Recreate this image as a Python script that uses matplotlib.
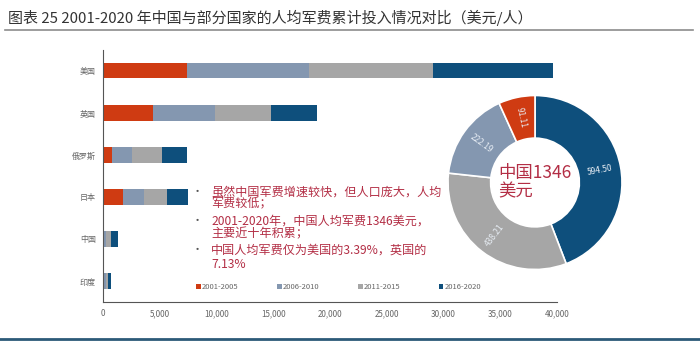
import matplotlib
matplotlib.use("Agg")
import matplotlib.pyplot as plt
from matplotlib.ticker import FuncFormatter
import numpy as np

plt.rcParams['font.family'] = ['Noto Sans CJK SC', 'DejaVu Sans']

# DATA ----------------------------------------------------------------------
countries = ['美国', '英国', '俄罗斯', '日本', '中国', '印度']
periods = ['2001-2005', '2006-2010', '2011-2015', '2016-2020']
p2001_2005 = [7400, 4430, 790, 1760, 91.11, 90]
p2006_2010 = [10770, 5440, 1740, 1850, 222.19, 160]
p2011_2015 = [10880, 4910, 2640, 2000, 438.21, 220]
p2016_2020 = [10550, 4100, 2200, 1850, 594.50, 260]

china_vals = [594.50, 438.21, 222.19, 91.11]   # 2016-2020, 2011-2015, 2006-2010, 2001-2005
china_total = 1346

colors = ['#CF3B12', '#8497B0', '#A6A6A6', '#0E4F7C']
pie_colors = [colors[3], colors[2], colors[1], colors[0]]
text_red = '#B32E45'

notes = [
    ['虽然中国军费增速较快，但人口庞大，人均', '军费较低；'],
    ['2001-2020年，中国人均军费1346美元，', '主要近十年积累；'],
    ['中国人均军费仅为美国的3.39%，英国的', '7.13%'],
]

# FIGURE --------------------------------------------------------------------
fig = plt.figure(figsize=(7.0, 3.42), dpi=100)

fig.text(0.011, 0.948, '图表 25 2001-2020 年中国与部分国家的人均军费累计投入情况对比（美元/人）',
         fontsize=10.8, color='#333333', va='center', ha='left')
fig.add_artist(plt.Line2D([0.007, 0.99], [0.912, 0.912], color='#8C8C8C', lw=1.2))

ax = fig.add_axes([0.147, 0.117, 0.649, 0.737])
y = np.arange(len(countries))
left = np.zeros(len(countries))
series = [p2001_2005, p2006_2010, p2011_2015, p2016_2020]
for vals, c, lab in zip(series, colors, periods):
    ax.barh(y, vals, left=left, height=0.36, color=c, label=lab)
    left = left + np.array(vals)

ax.set_xlim(0, 40000)
ax.set_ylim(5.5, -0.5)
ax.set_yticks(y)
ax.set_yticklabels(countries)
ax.xaxis.set_major_formatter(FuncFormatter(lambda v, p: f'{int(v):,}'))
ax.set_xticks(np.arange(0, 40001, 5000))
ax.tick_params(axis='both', length=0, labelsize=5.8, colors='#666666', pad=5)
for s in ['top', 'right']:
    ax.spines[s].set_visible(False)
ax.spines['left'].set_color('#555555')
ax.spines['bottom'].set_color('#555555')

leg = ax.legend(ncol=4, loc='center left', bbox_to_anchor=(0.19, 0.058), frameon=False,
                fontsize=5.5, handlelength=0.6, handleheight=0.6, handletextpad=0.2,
                columnspacing=5.0, labelcolor='#666666')

# notes text
ys = [[192, 204], [221, 234], [250, 264]]
for lines, (y1, y2) in zip(notes, ys):
    fig.text(192 / 700, 1 - y1 / 342, '•', fontsize=8, color='#555555', va='center')
    fig.text(211 / 700, 1 - y1 / 342, lines[0], fontsize=8.7, color=text_red, va='center',
             weight='medium')
    fig.text(211 / 700, 1 - y2 / 342, lines[1], fontsize=8.7, color=text_red, va='center',
             weight='medium')

# donut
cx, cy, r = 535, 182.5, 87
pax = fig.add_axes([(cx - r) / 700, (342 - cy - r) / 342, 2 * r / 700, 2 * r / 342])
wedges, _ = pax.pie(china_vals, colors=pie_colors, startangle=90, counterclock=False,
                    radius=1, wedgeprops=dict(width=0.49, edgecolor='white', linewidth=1.2))
for w, v in zip(wedges, china_vals):
    th = (w.theta1 + w.theta2) / 2
    rad = np.deg2rad(th)
    rot = th if -90 <= ((th + 180) % 360 - 180) <= 90 else th - 180
    rot = (rot + 180) % 360 - 180
    pax.text(0.76 * np.cos(rad), 0.76 * np.sin(rad), f'{v:.2f}', fontsize=6,
             color='#E8EEF5', ha='center', va='center', rotation=rot)
pax.text(-0.42, 0.0, f'中国{china_total}\n美元', fontsize=12.5, color=text_red,
         ha='left', va='center', linespacing=1.05)
pax.set_xlim(-1, 1)
pax.set_ylim(-1, 1)
pax.axis('off')

fig.add_artist(plt.Line2D([0, 1], [0.008, 0.008], color='#2C5A78', lw=2))

fig.savefig('out.png', dpi=100)
